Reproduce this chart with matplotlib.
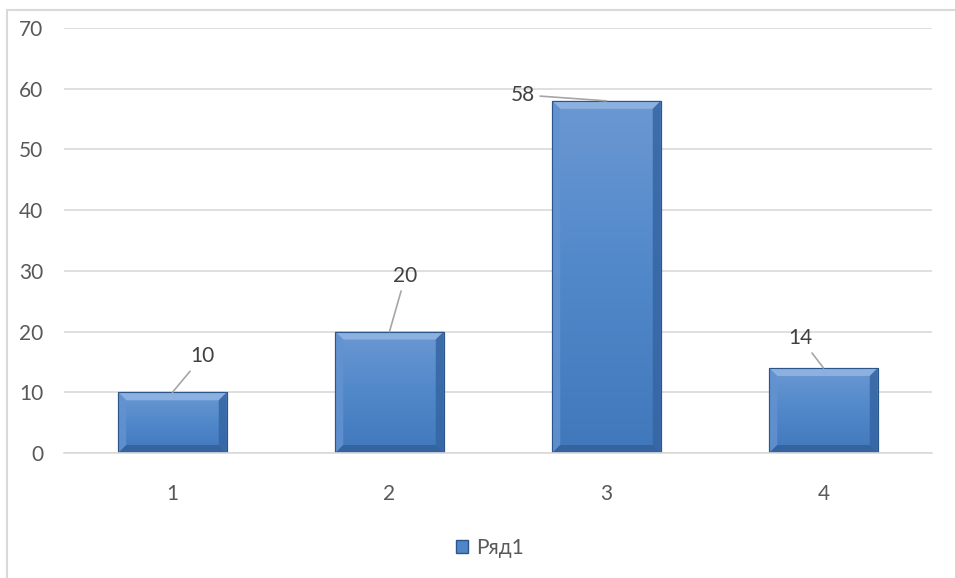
import numpy as np
import matplotlib
matplotlib.use("Agg")
from matplotlib import pyplot as plt
from matplotlib.patches import Polygon, Rectangle, Patch
from matplotlib.colors import LinearSegmentedColormap

plt.rcParams['font.family'] = ['Lato', 'DejaVu Sans']

categories = ['1', '2', '3', '4']
values = [10, 20, 58, 14]
series_name = 'Ряд1'
# label offsets in pixels (dx, dy) from the bar top centre
label_offsets = [(30, 36), (16, 56), (-84, 6), (-23, 30)]

W, H, DPI = 955, 578, 100
fig = plt.figure(figsize=(W / DPI, H / DPI), dpi=DPI)
ax = fig.add_axes([64 / W, (H - 453) / H, (932 - 64) / W, (453 - 28) / H])

x = np.arange(len(categories))
width = 0.5
ax.set_xlim(-0.5, len(categories) - 0.5)
ax.set_ylim(0, 70)
ax.set_yticks(range(0, 71, 10))
ax.set_xticks(x)
ax.set_xticklabels(categories)

ax.grid(axis='y', color='#d9d9d9', lw=1.2)
ax.set_axisbelow(True)
for s in ['top', 'right', 'left']:
    ax.spines[s].set_visible(False)
ax.spines['bottom'].set_color('#d9d9d9')
ax.spines['bottom'].set_linewidth(1.2)
ax.tick_params(length=0, labelsize=15, labelcolor='#595959')
ax.tick_params(axis='y', pad=15)
ax.tick_params(axis='x', pad=22)

bars = ax.bar(x, values, width, color='#4f86c8', edgecolor='#2c5689', lw=0.8, zorder=2)

# pixel -> data scale
px_x = (len(categories)) / (932 - 64)
px_y = 70 / (453 - 28)
bx, by = 8 * px_x, 8 * px_y

cmap = LinearSegmentedColormap.from_list('face', ['#6c98d3', '#5088ca', '#4178bb'])
grad = np.linspace(0, 1, 256).reshape(-1, 1)

for xi, v, b in zip(x, values, bars):
    l, r = xi - width / 2, xi + width / 2
    im = ax.imshow(grad, cmap=cmap, aspect='auto', origin='upper',
                   extent=(l, r, 0, v), zorder=2.1)
    im.set_clip_path(b)
    # bevel edges
    ax.add_patch(Polygon([(l, v), (r, v), (r - bx, v - by), (l + bx, v - by)],
                         closed=True, fc='#8cb1e0', ec='none', zorder=2.2))
    ax.add_patch(Polygon([(l, 0), (l, v), (l + bx, v - by), (l + bx, by)],
                         closed=True, fc='#6392d0', ec='none', alpha=0.85, zorder=2.2))
    ax.add_patch(Polygon([(r, 0), (r, v), (r - bx, v - by), (r - bx, by)],
                         closed=True, fc='#3565a3', ec='none', alpha=0.85, zorder=2.2))
    ax.add_patch(Polygon([(l, 0), (r, 0), (r - bx, by), (l + bx, by)],
                         closed=True, fc='#35639f', ec='none', zorder=2.2))
    ax.add_patch(Rectangle((l, 0), width, v, fc='none', ec='#2c5689', lw=0.8, zorder=2.3))

for xi, v, (dx, dy) in zip(x, values, label_offsets):
    ax.annotate(str(v), xy=(xi, v), xytext=(dx * 0.72, dy * 0.72), textcoords='offset points',
                ha='center', va='center', fontsize=15, color='#404040',
                arrowprops=dict(arrowstyle='-', color='#a6a6a6', lw=1.2, shrinkA=2, shrinkB=0),
                zorder=3)

fig.legend(handles=[Patch(fc='#4f86c8', ec='#2c5689', label=series_name)],
           loc='center', bbox_to_anchor=(490 / W, (H - 548) / H), frameon=False,
           fontsize=15, labelcolor='#595959', handlelength=0.6, handleheight=0.6,
           handletextpad=0.4)

fig.add_artist(Rectangle((6.5 / W, -0.1), 2, (H - 9.5) / H + 0.1, transform=fig.transFigure,
                         fc='none', ec='#d9d9d9', lw=1.5))

fig.savefig('out.png', dpi=DPI)
